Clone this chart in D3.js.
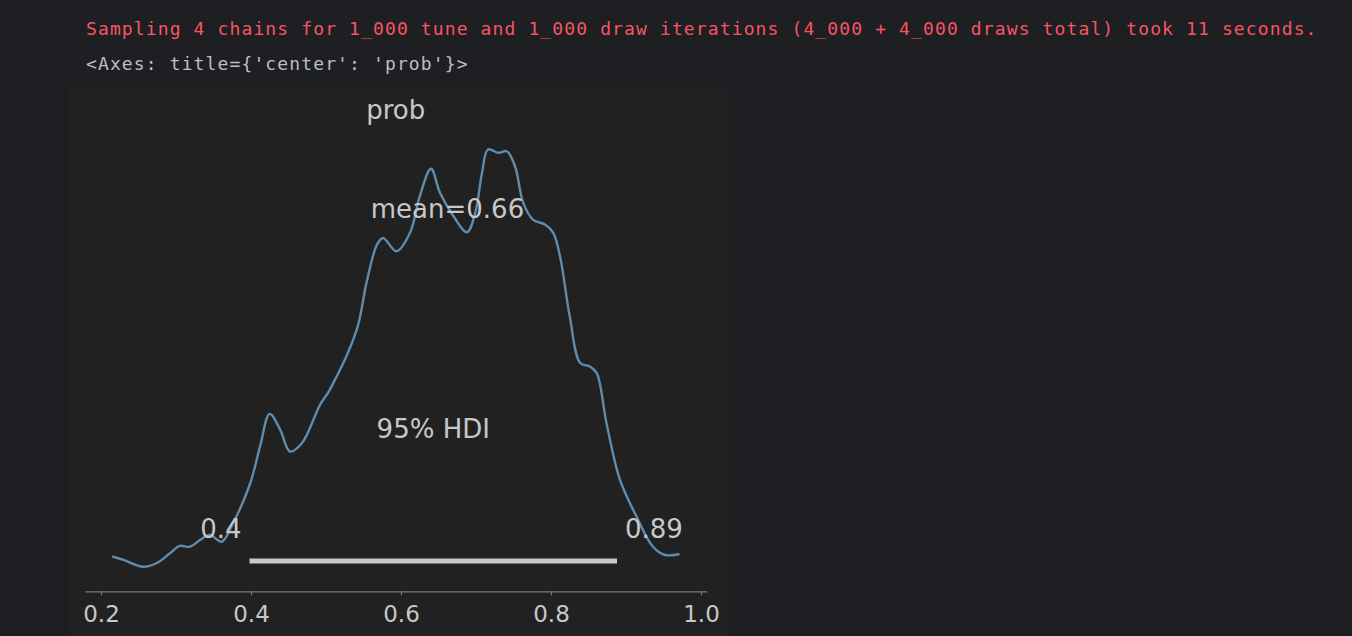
<!DOCTYPE html>
<html>
<head>
<meta charset="utf-8">
<script src="https://cdn.jsdelivr.net/npm/d3@7"></script>
<style>
  html, body { margin: 0; padding: 0; background: #1e1f22; }
  svg { display: block; }
</style>
</head>
<body>
<svg id="chart" width="1352" height="636"></svg>
<script>
// ---------------- data ----------------
const logLines = [
  "Sampling 4 chains for 1_000 tune and 1_000 draw iterations (4_000 + 4_000 draws total) took 11 seconds.",
  "<Axes: title={'center': 'prob'}>"
];
const varName = "prob";
const probGrid = [0.216,0.230,0.243,0.256,0.274,0.292,0.305,0.319,0.332,0.345,0.361,0.376,0.399,0.412,0.425,0.439,0.452,0.468,0.492,0.505,0.541,0.554,0.568,0.576,0.594,0.612,0.625,0.640,0.652,0.670,0.688,0.699,0.708,0.716,0.730,0.741,0.752,0.763,0.776,0.792,0.803,0.812,0.825,0.839,0.852,0.861,0.874,0.892,0.914,0.936,0.952,0.970];
const density  = [0.105,0.083,0.055,0.036,0.060,0.129,0.179,0.174,0.220,0.255,0.208,0.335,0.610,0.862,1.087,0.977,0.828,0.886,1.149,1.252,1.665,1.989,2.250,2.296,2.204,2.331,2.582,2.771,2.606,2.445,2.335,2.468,2.743,2.904,2.881,2.892,2.789,2.537,2.422,2.388,2.331,2.170,1.757,1.436,1.413,1.367,1.023,0.633,0.381,0.174,0.117,0.122];
const meanValue = 0.662;
const hdiInterval = [0.398, 0.888];
const hdiLabel = "95% HDI";
const xTicks = [0.2, 0.4, 0.6, 0.8, 1.0];

// ---------------- layout ----------------
const svg = d3.select("#chart");
const W = 1352, H = 636;

// console text
const red = "#f75464", grey = "#bcbec4";
const mono = "'DejaVu Sans Mono', 'Liberation Mono', monospace";
svg.append("text").attr("x", 86).attr("y", 34.5)
  .attr("font-family", mono).attr("font-size", 18).attr("letter-spacing", "1.12px")
  .attr("fill", red).attr("xml:space", "preserve").text(logLines[0]);
svg.append("text").attr("x", 86).attr("y", 70)
  .attr("font-family", mono).attr("font-size", 18).attr("letter-spacing", "1.12px")
  .attr("fill", grey).attr("xml:space", "preserve").text(logLines[1]);

// figure panel
svg.append("rect").attr("x", 69).attr("y", 87).attr("width", 660).attr("height", H - 87)
  .attr("fill", "#212121");

// scales
const ext = d3.extent(probGrid);
const pad = (ext[1] - ext[0]) * 0.05;
const lo = ext[0] - pad, hi = ext[1] + pad;
const pxPerUnit = 750, px02 = 101;
const x = d3.scaleLinear().domain([lo, hi])
  .range([px02 + (lo - 0.2) * pxPerUnit, px02 + (hi - 0.2) * pxPerUnit]);
const y = d3.scaleLinear().domain([0, 3]).range([572, 135.5]);
const axisY = 591.3;

const txtCol = "#c8c8c8";
const font = "'DejaVu Sans', Verdana, sans-serif";

// x axis
const axis = d3.axisBottom(x).tickValues(xTicks).tickFormat(d3.format(".1f"))
  .tickSize(4).tickSizeOuter(0);
const gAx = svg.append("g").attr("transform", `translate(0,${axisY})`).call(axis);
gAx.select(".domain").attr("stroke", "#7a7a7a").attr("stroke-width", 1.2);
gAx.selectAll(".tick line").attr("stroke", "#7a7a7a").attr("stroke-width", 1.2);
gAx.selectAll(".tick text").attr("fill", txtCol).attr("font-family", font)
  .attr("font-size", 23).attr("y", 30.4).attr("dy", 0);

// title
svg.append("text").attr("x", (x.range()[0] + x.range()[1]) / 2).attr("y", 119.3)
  .attr("text-anchor", "middle").attr("font-family", font).attr("font-size", 26)
  .attr("fill", txtCol).text(varName);

// KDE curve
const pts = probGrid.map((p, i) => [p, density[i]]);
const line = d3.line().x(d => x(d[0])).y(d => y(d[1])).curve(d3.curveCatmullRom.alpha(0.5));
svg.append("path").datum(pts).attr("d", line)
  .attr("fill", "none").attr("stroke", "#5f8bad").attr("stroke-width", 2.4)
  .attr("stroke-linejoin", "round").attr("stroke-linecap", "round");

// HDI bar
const barY = 561;
svg.append("line").attr("x1", x(hdiInterval[0])).attr("x2", x(hdiInterval[1]))
  .attr("y1", barY).attr("y2", barY)
  .attr("stroke", "#c8c8c8").attr("stroke-width", 5);

const fmt = v => String(+(+v).toPrecision(2));
svg.append("text").attr("x", x(hdiInterval[0]) - 8).attr("y", 538)
  .attr("text-anchor", "end").attr("font-family", font).attr("font-size", 26)
  .attr("fill", txtCol).text(fmt(hdiInterval[0]));
svg.append("text").attr("x", x(hdiInterval[1]) + 8).attr("y", 538)
  .attr("text-anchor", "start").attr("font-family", font).attr("font-size", 26)
  .attr("fill", txtCol).text(fmt(hdiInterval[1]));
svg.append("text").attr("x", (x(hdiInterval[0]) + x(hdiInterval[1])) / 2).attr("y", 438)
  .attr("text-anchor", "middle").attr("font-family", font).attr("font-size", 26)
  .attr("fill", txtCol).text(hdiLabel);

// mean label
svg.append("text").attr("x", x(meanValue)).attr("y", 218.3)
  .attr("text-anchor", "middle").attr("font-family", font).attr("font-size", 26)
  .attr("fill", txtCol).text("mean=" + fmt(meanValue));
</script>
</body>
</html>
